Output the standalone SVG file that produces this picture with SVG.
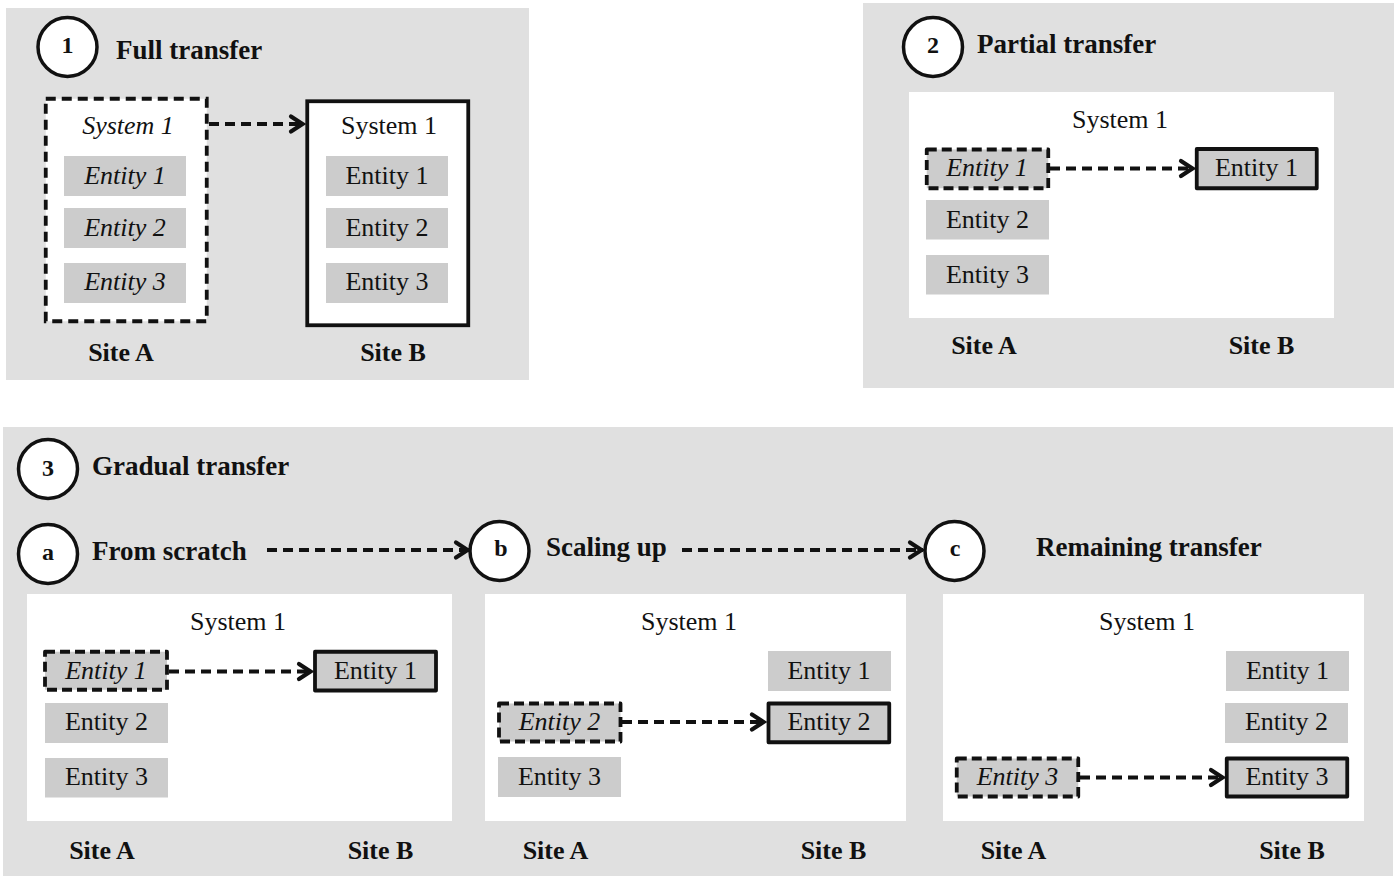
<svg xmlns="http://www.w3.org/2000/svg" width="1396" height="879" viewBox="0 0 1396 879">
<defs>
<style>
.panel{fill:#e0e0e0}
.white{fill:#ffffff}
.ent{fill:#cccccc}
.ents{fill:#cccccc;stroke:#111;stroke-width:3.8;stroke-linejoin:round}
.entd{fill:#cccccc;stroke:#111;stroke-width:3.8;stroke-dasharray:10 5;stroke-linejoin:round}
.sysd{fill:#ffffff;stroke:#111;stroke-width:3.8;stroke-dasharray:10 6}
.syss{fill:#ffffff;stroke:#111;stroke-width:3.8}
.circ{fill:#ffffff;stroke:#111;stroke-width:3.5}
.t{font-family:"Liberation Serif","Times New Roman",serif;font-size:26px;fill:#111}
.i{font-style:italic}
.c{text-anchor:middle}
.b{font-weight:bold}
.title{font-family:"Liberation Serif","Times New Roman",serif;font-size:27px;font-weight:bold;fill:#111}
.num{font-family:"Liberation Serif","Times New Roman",serif;font-size:24px;font-weight:bold;fill:#111;text-anchor:middle}
.conn{fill:none;stroke:#111;stroke-width:4;stroke-dasharray:10 6;marker-end:url(#arr)}
</style>
<marker id="arr" markerUnits="userSpaceOnUse" markerWidth="22" markerHeight="22" viewBox="-17 -11 22 22" refX="0" refY="0" orient="auto">
<path d="M-13,-7.5 L-1.5,0 L-13,7.5" fill="none" stroke="#111" stroke-width="4.2" stroke-linecap="round" stroke-linejoin="miter"/>
</marker>
</defs>

<!-- Panels -->
<rect id="panel1" class="panel" x="6" y="8" width="523" height="372"/>
<rect id="panel2" class="panel" x="863" y="3" width="531" height="385"/>
<rect id="panel3" class="panel" x="3" y="427" width="1390" height="449"/>

<!-- Panel 1 -->
<g id="p1-label">
<circle class="circ" cx="67.5" cy="47" r="29.5"/>
<text class="num" x="67.5" y="53">1</text>
<text class="title" x="116" y="59">Full transfer</text>
</g>
<g id="p1-siteA-system">
<rect class="sysd" x="45.75" y="98.75" width="161" height="222.5"/>
<text class="t i c" x="128" y="134">System 1</text>
<rect class="ent" x="64" y="156" width="122" height="40"/>
<text class="t i c" x="125" y="183.5">Entity 1</text>
<rect class="ent" x="64" y="208" width="122" height="40"/>
<text class="t i c" x="125" y="235.5">Entity 2</text>
<rect class="ent" x="64" y="263" width="122" height="40"/>
<text class="t i c" x="125" y="290">Entity 3</text>
</g>
<g id="p1-siteB-system">
<rect class="syss" x="307.25" y="101.25" width="161" height="224"/>
<text class="t c" x="389" y="134">System 1</text>
<rect class="ent" x="326" y="156" width="122" height="40"/>
<text class="t c" x="387" y="183.5">Entity 1</text>
<rect class="ent" x="326" y="208" width="122" height="40"/>
<text class="t c" x="387" y="235.5">Entity 2</text>
<rect class="ent" x="326" y="263" width="122" height="40"/>
<text class="t c" x="387" y="290">Entity 3</text>
</g>
<g id="p1-sites">
<text class="t b c" x="121" y="361">Site A</text>
<text class="t b c" x="393" y="361">Site B</text>
</g>

<!-- Panel 2 -->
<g id="p2-label">
<circle class="circ" cx="933" cy="47" r="29.5"/>
<text class="num" x="933" y="53">2</text>
<text class="title" x="977" y="53">Partial transfer</text>
</g>
<g id="p2-system">
<rect class="white" x="909" y="92" width="425" height="226"/>
<text class="t c" x="1120" y="128">System 1</text>
</g>
<g id="p2-entity1-A">
<rect class="entd" x="926.75" y="149.5" width="121.5" height="38.75"/>
<text class="t i c" x="987" y="175.5">Entity 1</text>
</g>
<g id="p2-entity2-A">
<rect class="ent" x="926" y="200" width="123" height="39.5"/>
<text class="t c" x="987.5" y="228">Entity 2</text>
</g>
<g id="p2-entity3-A">
<rect class="ent" x="926" y="255" width="123" height="39.5"/>
<text class="t c" x="987.5" y="283">Entity 3</text>
</g>
<g id="p2-entity1-B">
<rect class="ents" x="1196.75" y="149" width="120" height="39.25"/>
<text class="t c" x="1256.5" y="175.5">Entity 1</text>
</g>
<g id="p2-sites">
<text class="t b c" x="984" y="354">Site A</text>
<text class="t b c" x="1261.5" y="354">Site B</text>
</g>

<!-- Panel 3 -->
<g id="p3-label">
<circle class="circ" cx="48" cy="469" r="29.5"/>
<text class="num" x="48" y="475.5">3</text>
<text class="title" x="92" y="475">Gradual transfer</text>
</g>
<g id="p3a-label">
<circle class="circ" cx="48" cy="554" r="29.5"/>
<text class="num" x="48" y="560">a</text>
<text class="title" x="92" y="560">From scratch</text>
</g>
<g id="p3b-label">
<circle class="circ" cx="499.5" cy="551" r="29.5"/>
<text class="num" x="501" y="555.5">b</text>
<text class="title" x="546" y="555.5">Scaling up</text>
</g>
<g id="p3c-label">
<circle class="circ" cx="954.5" cy="551" r="29.5"/>
<text class="num" x="955" y="555.5">c</text>
<text class="title" x="1036" y="555.5">Remaining transfer</text>
</g>

<!-- 3a -->
<g id="p3a-system">
<rect class="white" x="27" y="594" width="425" height="227"/>
<text class="t c" x="238" y="629.5">System 1</text>
</g>
<g id="p3a-entity1-A">
<rect class="entd" x="45" y="651.75" width="122" height="38"/>
<text class="t i c" x="106" y="678.5">Entity 1</text>
</g>
<g id="p3a-entity2-A">
<rect class="ent" x="45" y="703" width="123" height="40"/>
<text class="t c" x="106.5" y="730">Entity 2</text>
</g>
<g id="p3a-entity3-A">
<rect class="ent" x="45" y="758" width="123" height="39.5"/>
<text class="t c" x="106.5" y="785">Entity 3</text>
</g>
<g id="p3a-entity1-B">
<rect class="ents" x="315" y="651.75" width="121" height="38.75"/>
<text class="t c" x="375.5" y="678.5">Entity 1</text>
</g>
<g id="p3a-sites">
<text class="t b c" x="102" y="858.5">Site A</text>
<text class="t b c" x="380.5" y="858.5">Site B</text>
</g>

<!-- 3b -->
<g id="p3b-system">
<rect class="white" x="485" y="594" width="421" height="227"/>
<text class="t c" x="689" y="630">System 1</text>
</g>
<g id="p3b-entity1-B">
<rect class="ent" x="768" y="651" width="123" height="40"/>
<text class="t c" x="829" y="678.5">Entity 1</text>
</g>
<g id="p3b-entity2-A">
<rect class="entd" x="499" y="703.5" width="121.5" height="38"/>
<text class="t i c" x="559.5" y="730">Entity 2</text>
</g>
<g id="p3b-entity2-B">
<rect class="ents" x="768.5" y="703.5" width="120.75" height="38.75"/>
<text class="t c" x="829" y="730">Entity 2</text>
</g>
<g id="p3b-entity3-A">
<rect class="ent" x="498" y="757" width="123" height="40"/>
<text class="t c" x="559.5" y="785">Entity 3</text>
</g>
<g id="p3b-sites">
<text class="t b c" x="555.5" y="859">Site A</text>
<text class="t b c" x="833.5" y="859">Site B</text>
</g>

<!-- 3c -->
<g id="p3c-system">
<rect class="white" x="943" y="594" width="421" height="227"/>
<text class="t c" x="1147" y="630">System 1</text>
</g>
<g id="p3c-entity1-B">
<rect class="ent" x="1226" y="651" width="123" height="40"/>
<text class="t c" x="1287.5" y="678.5">Entity 1</text>
</g>
<g id="p3c-entity2-B">
<rect class="ent" x="1225" y="703" width="123" height="40"/>
<text class="t c" x="1286.5" y="730">Entity 2</text>
</g>
<g id="p3c-entity3-A">
<rect class="entd" x="956.75" y="758.5" width="121.5" height="38"/>
<text class="t i c" x="1017.5" y="785">Entity 3</text>
</g>
<g id="p3c-entity3-B">
<rect class="ents" x="1226.75" y="758.5" width="120.5" height="38"/>
<text class="t c" x="1287" y="785">Entity 3</text>
</g>
<g id="p3c-sites">
<text class="t b c" x="1013.5" y="859">Site A</text>
<text class="t b c" x="1292" y="859">Site B</text>
</g>

<!-- Connectors -->
<g id="connectors">
<line class="conn" x1="209" y1="124" x2="304" y2="124"/>
<line class="conn" x1="1050" y1="168.5" x2="1194" y2="168.5"/>
<line class="conn" x1="169" y1="671.5" x2="312" y2="671.5"/>
<line class="conn" x1="622" y1="722" x2="765" y2="722"/>
<line class="conn" x1="1080" y1="777.5" x2="1224" y2="777.5"/>
<line class="conn" x1="267" y1="550" x2="469" y2="550"/>
<line class="conn" x1="682" y1="550" x2="923" y2="550"/>
</g>
</svg>
